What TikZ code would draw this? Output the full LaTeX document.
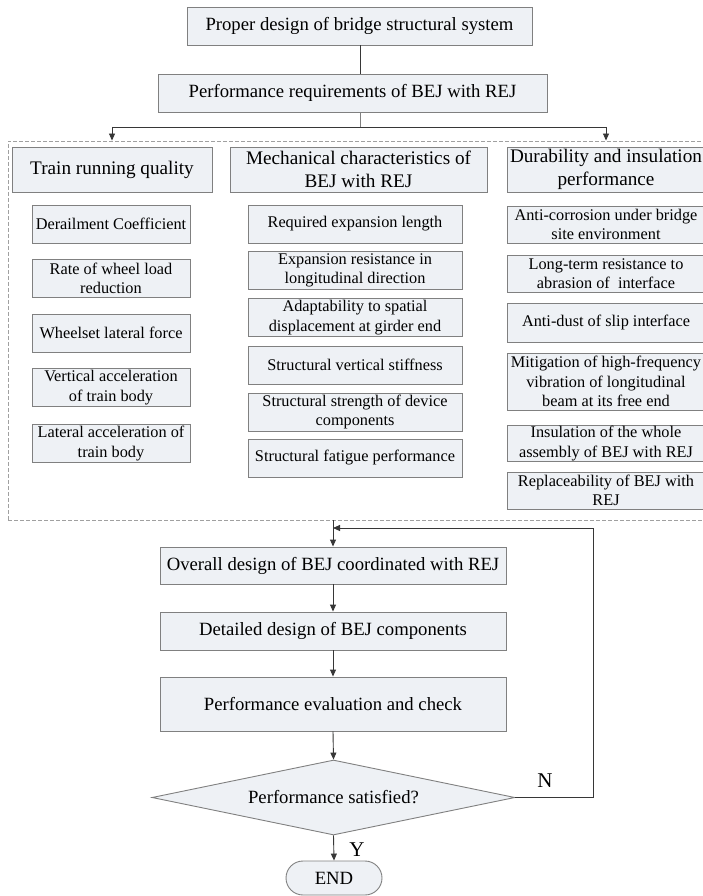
\documentclass[tikz,border=0pt]{standalone}
\usepackage{fontspec}
\setmainfont{Liberation Serif}
\usetikzlibrary{arrows.meta,shapes.geometric}
\definecolor{boxfill}{RGB}{238,241,245}
\definecolor{boxline}{RGB}{128,128,128}
\definecolor{conn}{RGB}{55,55,55}
\definecolor{dashc}{RGB}{160,160,160}
\begin{document}
\begin{tikzpicture}[x=1pt,y=-1pt,
  base/.style={draw=boxline, fill=boxfill, line width=0.9pt, inner sep=0pt, align=center},
  bigbox/.style={base, font=\fontsize{18.7}{21.5}\selectfont},
  headbox/.style={base, font=\fontsize{19.2}{22.5}\selectfont, minimum height=45pt},
  smallbox/.style={base, font=\fontsize{16.3}{19.5}\selectfont, minimum height=38pt},
  c1/.style={smallbox, minimum width=158pt},
  c2/.style={smallbox, minimum width=214pt},
  c3/.style={smallbox, minimum width=198pt},
  flowbox/.style={bigbox, minimum width=346pt},
  conline/.style={draw=conn, line width=0.9pt},
  arr/.style={conline, -{Triangle[width=6pt,length=7pt]}},
  grpbox/.style={draw=dashc, line width=0.9pt, dash pattern=on 4pt off 2pt, inner sep=0pt},
  yn/.style={font=\fontsize{21}{24}\selectfont, inner sep=0pt}
]
\useasboundingbox (0,0) rectangle (703,896);

% top part
\node[bigbox, minimum width=345pt, minimum height=38pt] (top) at (359.5,26) {Proper design of bridge structural system};
\node[bigbox, minimum width=389pt, minimum height=38pt] (req) at (352.5,93) {Performance requirements of BEJ with REJ};

% dashed group
\node[grpbox, minimum width=700pt, minimum height=379pt] (grp) at (358,330.5) {};

% column headers
\node[headbox, minimum width=200pt] (h1) at (112,169.5) {Train running quality};
\node[headbox, minimum width=257pt] (h2) at (358.5,169.5) {Mechanical characteristics of\\BEJ with REJ};
\node[headbox, minimum width=198pt] (h3) at (606,169.5) {Durability and insulation\\performance};

% column 1
\node[c1] (a1) at (111,224) {Derailment Coefficient};
\node[c1] (a2) at (111,278.5) {Rate of wheel load\\reduction};
\node[c1] (a3) at (111,333) {Wheelset lateral force};
\node[c1] (a4) at (111,387.5) {Vertical acceleration\\of train body};
\node[c1] (a5) at (111,443.5) {Lateral acceleration of\\train body};

% column 2
\node[c2] (b1) at (355,224) {Required expansion length};
\node[c2] (b2) at (355,270.5) {Expansion resistance in\\longitudinal direction};
\node[c2] (b3) at (355,317.5) {Adaptability to spatial\\displacement at girder end};
\node[c2] (b4) at (355,365) {Structural vertical stiffness};
\node[c2] (b5) at (355,412) {Structural strength of device\\components};
\node[c2] (b6) at (355,458) {Structural fatigue performance};

% column 3
\node[c3, minimum height=37pt] (d1) at (606,224.5) {Anti-corrosion under bridge\\site environment};
\node[c3, minimum height=37pt] (d2) at (606,273.5) {Long-term resistance to\\abrasion of~ interface};
\node[c3, minimum height=39pt] (d3) at (606,322.5) {Anti-dust of slip interface};
\node[c3, minimum height=57pt] (d4) at (606,381.5) {Mitigation of high-frequency\\vibration of longitudinal\\beam at its free end};
\node[c3, minimum height=36pt] (d5) at (606,443.5) {Insulation of the whole\\assembly of BEJ with REJ};
\node[c3, minimum height=37pt] (d6) at (606,490.5) {Replaceability of BEJ with\\REJ};

% lower flow
\node[flowbox, minimum height=37pt] (o1) at (333,565.5) {Overall design of BEJ coordinated with REJ};
\node[flowbox, minimum height=38pt] (o2) at (333,631) {Detailed design of BEJ components};
\node[flowbox, minimum height=54pt] (o3) at (333,704) {Performance evaluation and check};
\node[base, shape=diamond, aspect=4.84, minimum width=363pt, minimum height=75pt,
      font=\fontsize{18.7}{21.5}\selectfont] (dia) at (333.5,797.5) {Performance satisfied?};
\node[base, rounded corners=17pt, minimum width=96pt, minimum height=34pt,
      font=\fontsize{18.7}{21.5}\selectfont] (end) at (334,878) {END};

\node[yn] (nlab) at (545,781) {N};
\node[yn] (ylab) at (357,850) {Y};

% connectors top
\coordinate (j) at (360,127);
\coordinate (jl) at (112,127);
\coordinate (jr) at (606,127);
\draw[conline] (top.south -| j) -- (req.north -| j);
\draw[draw=boxline, line width=0.9pt] (req.south -| j) -- (j);
\draw[conline] (jl) -- (jr);
\draw[arr] (jl) -- (jl |- grp.north);
\draw[arr] (jr) -- (jr |- grp.north);

% connectors bottom
\draw[arr] (grp.south -| o1.north) -- (o1.north);
\draw[arr] (o1.south) -- (o2.north);
\draw[arr] (o2.south) -- (o3.north);
\draw[arr] (o3.south) -- (dia.north);
\draw[arr] (dia.south) -- (end.north);
\coordinate (fbr) at (593,528);
\draw[arr] (dia.east) -| (fbr) -- (o1.north |- fbr);
\end{tikzpicture}
\end{document}
